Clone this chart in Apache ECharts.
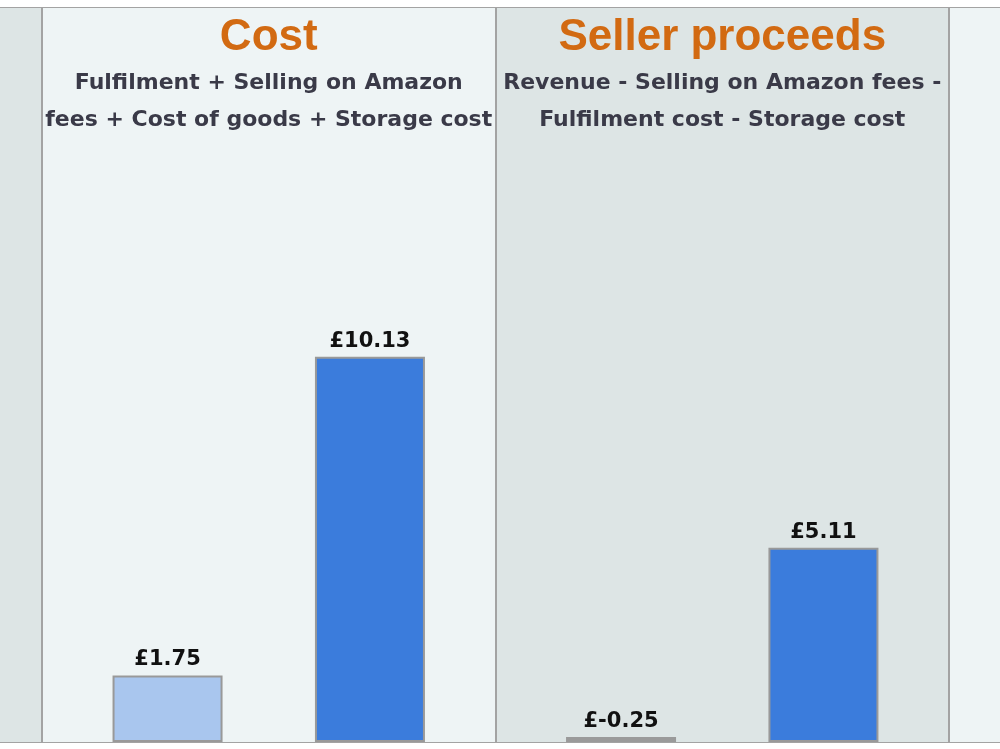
<!DOCTYPE html>
<html lang="en">
<head>
    <meta charset="UTF-8">
    <title>Cost / Seller proceeds</title>
    <script src="https://cdn.jsdelivr.net/npm/echarts@6/dist/echarts.min.js"></script>
    <style>
        * { margin: 0; padding: 0; }
        body { background: #fff; }
        #paint { width: 1000px; height: 749px; }
    </style>
</head>
<body>
    <div id="paint"></div>
    <script>
        // neighbouring panels are cut off at both edges of the picture
        var panels = ['', 'Cost', 'Seller proceeds', ''];
        var subtitles = [
            [],
            ['Fulfilment + Selling on Amazon', 'fees + Cost of goods + Storage cost'],
            ['Revenue - Selling on Amazon fees -', 'Fulfilment cost - Storage cost'],
            []
        ];
        var yourFulfilment = [null, 1.75, -0.25, null];
        var amazonFulfilment = [null, 10.13, 5.11, null];

        var band = 453.5;

        // negative values are drawn as a small grey stub on the baseline
        function barData(values) {
            return values.map(function (v) {
                if (v == null) return null;
                if (v < 0) return { value: 0, itemStyle: { color: '#9a9a9a', borderWidth: 0 } };
                return v;
            });
        }

        function money(values) {
            return function (p) {
                return '£' + values[p.dataIndex].toFixed(2);
            };
        }

        var barLabel = {
            show: true,
            position: 'top',
            distance: 5,
            fontFamily: 'DejaVu Sans',
            fontWeight: 'bold',
            fontSize: 21,
            color: '#111'
        };

        var mychart = echarts.init(document.getElementById('paint'));

        var option = {
            animation: false,
            backgroundColor: '#fff',
            grid: {
                left: 42 - band,
                width: band * panels.length,
                top: 8,
                bottom: 7,
                show: true,
                borderColor: '#a3a3a3',
                borderWidth: 2,
                outerBoundsMode: 'none'
            },
            xAxis: {
                type: 'category',
                position: 'top',
                data: panels,
                axisLine: { show: false },
                axisTick: { show: false },
                splitLine: {
                    show: true,
                    lineStyle: { color: '#a3a3a3', width: 2 }
                },
                splitArea: {
                    show: true,
                    areaStyle: { color: ['#dde5e5', '#eef4f5'] }
                },
                axisLabel: {
                    inside: true,
                    interval: 0,
                    margin: 2,
                    formatter: function (name, i) {
                        if (!name) return '';
                        var s = '{t|' + name + '}';
                        subtitles[i].forEach(function (line) {
                            s += '\n{s|' + line + '}';
                        });
                        return s;
                    },
                    rich: {
                        t: {
                            fontFamily: 'Liberation Sans',
                            fontWeight: 'bold',
                            fontSize: 44,
                            lineHeight: 55,
                            color: '#d26a12'
                        },
                        s: {
                            fontFamily: 'DejaVu Sans',
                            fontWeight: 'bold',
                            fontSize: 22,
                            lineHeight: 37,
                            color: '#3a3a48'
                        }
                    }
                }
            },
            yAxis: {
                type: 'value',
                min: 0,
                max: 19.3,
                show: false,
                splitLine: { show: false }
            },
            series: [
                {
                    name: 'Your fulfilment',
                    type: 'bar',
                    barWidth: 110,
                    barGap: '84%',
                    barMinHeight: 5,
                    itemStyle: { color: '#a9c6ee', borderColor: '#999', borderWidth: 2 },
                    label: Object.assign({ formatter: money(yourFulfilment) }, barLabel),
                    data: barData(yourFulfilment)
                },
                {
                    name: 'Amazon fulfilment',
                    type: 'bar',
                    barWidth: 110,
                    itemStyle: { color: '#3b7cdc', borderColor: '#999', borderWidth: 2 },
                    label: Object.assign({ formatter: money(amazonFulfilment) }, barLabel),
                    data: barData(amazonFulfilment)
                }
            ]
        };
        mychart.setOption(option);
    </script>
</body>
</html>
